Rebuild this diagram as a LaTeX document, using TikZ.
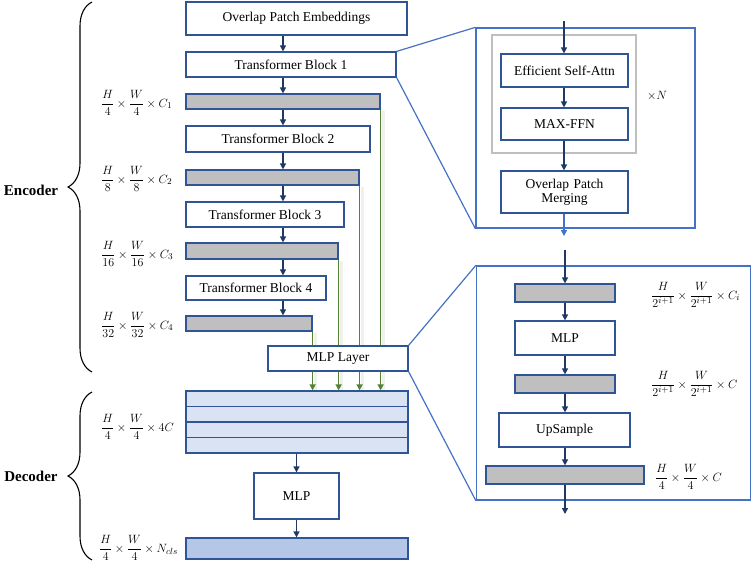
\documentclass[tikz,border=0pt]{standalone}
\usepackage{fontspec}
\setmainfont{Liberation Serif}
\usetikzlibrary{arrows.meta,decorations.pathreplacing}
\definecolor{bordc}{HTML}{2F5597}
\definecolor{arrc}{HTML}{1F3864}
\definecolor{grayf}{HTML}{BFBFBF}
\definecolor{greenc}{HTML}{548235}
\definecolor{panelc}{HTML}{4472C4}
\definecolor{stackf}{HTML}{DAE3F3}
\definecolor{outf}{HTML}{B4C7E7}
\tikzset{
  box/.style={draw=bordc, fill=white, line width=1.2pt, inner sep=0pt, font=\fontsize{13.5}{15}\selectfont, align=center},
  gbar/.style={draw=bordc, fill=grayf, line width=1.2pt, inner sep=0pt},
  sbar/.style={draw=bordc, fill=stackf, line width=1.2pt, inner sep=0pt},
  arr/.style={draw=arrc, line width=1.4pt, -{Triangle[length=6pt,width=6pt]}},
  larr/.style={draw=panelc, line width=1.4pt, -{Triangle[length=6pt,width=6pt]}},
  garr/.style={draw=greenc, line width=1.3pt, -{Triangle[length=6pt,width=6pt]}},
  gshadow/.style={draw=greenc!10, line width=3pt},
  panel/.style={draw=panelc, line width=1.3pt, inner sep=0pt},
  zoomln/.style={draw=panelc, line width=1.2pt},
  dimlab/.style={font=\fontsize{12.5}{15}\selectfont, inner sep=0pt, anchor=west},
  brc/.style={draw=black, line width=1.1pt, decorate, decoration={brace, amplitude=24pt}},
  partlab/.style={font=\fontsize{15}{17}\selectfont\bfseries, inner sep=0pt}
}
\begin{document}
\begin{tikzpicture}[x=1pt,y=-1pt]
\useasboundingbox (0,0) rectangle (752,563);
\coordinate (axl) at (283,0);
% encoder column
\node[box, minimum width=221pt, minimum height=33pt] (ope) at (296.5,18.5) {Overlap Patch Embeddings};
\node[box, minimum width=210pt, minimum height=25pt] (tb1) at (291,64.5) {Transformer Block 1};
\node[gbar, minimum width=194pt, minimum height=15pt] (g1) at (283,101.5) {};
\node[box, minimum width=184pt, minimum height=26pt] (tb2) at (278,139) {Transformer Block 2};
\node[gbar, minimum width=173pt, minimum height=15pt] (g2) at (272.5,177.5) {};
\node[box, minimum width=158pt, minimum height=25pt] (tb3) at (265,214.5) {Transformer Block 3};
\node[gbar, minimum width=152pt, minimum height=16pt] (g3) at (262,251) {};
\node[box, minimum width=140pt, minimum height=24pt] (tb4) at (256,288) {Transformer Block 4};
\node[gbar, minimum width=126pt, minimum height=15pt] (g4) at (249,323.5) {};
% decoder stack
\node[sbar, minimum width=222pt, minimum height=15.5pt] (s1) at (297,398.75) {};
\node[sbar, minimum width=222pt, minimum height=15.5pt] (s2) at (297,414.25) {};
\node[sbar, minimum width=222pt, minimum height=15.5pt] (s3) at (297,429.75) {};
\node[sbar, minimum width=222pt, minimum height=15.5pt] (s4) at (297,445.25) {};
\node[box, minimum width=85pt, minimum height=46pt] (mlp) at (296.5,496) {MLP};
\node[draw=bordc, fill=outf, line width=1.2pt, inner sep=0pt, minimum width=222pt, minimum height=21pt] (out) at (297,548.5) {};
% arrows encoder
\draw[arr] (ope.south -| axl) -- (tb1.north -| axl);
\draw[arr] (tb1.south -| axl) -- (g1.north -| axl);
\draw[arr] (g1.south -| axl) -- (tb2.north -| axl);
\draw[arr] (tb2.south -| axl) -- (g2.north -| axl);
\draw[arr] (g2.south -| axl) -- (tb3.north -| axl);
\draw[arr] (tb3.south -| axl) -- (g3.north -| axl);
\draw[arr] (g3.south -| axl) -- (tb4.north -| axl);
\draw[arr] (tb4.south -| axl) -- (g4.north -| axl);
% green skip lines
\foreach \g in {g1,g2,g3,g4}{
  \draw[gshadow] ([xshift=2.5pt,yshift=-1pt]\g.south east) -- ([xshift=2.5pt]\g.south east |- s1.north);
}
\foreach \g in {g1,g2,g3,g4}{
  \draw[garr] (\g.south east) -- (\g.south east |- s1.north);
}
\node[box, minimum width=140pt, minimum height=25pt] (mlpl) at (338,358.5) {MLP Layer};
\draw[arr] (s4.south -| mlp.north) -- (mlp.north);
\draw[arr] (mlp.south) -- (out.north -| mlp.south);
% left labels
\node[dimlab] (l1) at (101,103) {$\displaystyle\frac{H}{4}\times\frac{W}{4}\times C_1$};
\node[dimlab] (l2) at (101,179) {$\displaystyle\frac{H}{8}\times\frac{W}{8}\times C_2$};
\node[dimlab] (l3) at (101,254) {$\displaystyle\frac{H}{16}\times\frac{W}{16}\times C_3$};
\node[dimlab] (l4) at (101,325) {$\displaystyle\frac{H}{32}\times\frac{W}{32}\times C_4$};
\node[dimlab] (l5) at (101,427) {$\displaystyle\frac{H}{4}\times\frac{W}{4}\times 4C$};
\node[dimlab] (l6) at (99,548) {$\displaystyle\frac{H}{4}\times\frac{W}{4}\times N_{cls}$};
% braces
\coordinate (eb1) at (92,372);
\coordinate (eb2) at (92,2);
\coordinate (db1) at (92,560);
\coordinate (db2) at (92,392);
\draw[brc] (eb1) -- (eb2);
\draw[brc] (db1) -- (db2);
\node[partlab] (enc) at (31,190) {Encoder};
\node[partlab] (dec) at (31,476) {Decoder};
% top-right panel
\node[panel, minimum width=219pt, minimum height=200pt] (p1) at (585.5,128) {};
\node[draw=grayf, line width=1.2pt, inner sep=0pt, minimum width=144pt, minimum height=118pt] (rep) at (564,94) {};
\node[box, minimum width=127pt, minimum height=33pt] (esa) at (564.5,70.5) {Efficient Self-Attn};
\node[box, minimum width=127pt, minimum height=32pt] (ffn) at (564.5,124) {MAX-FFN};
\node[box, minimum width=127pt, minimum height=42pt, text width=120pt] (opm) at (564.5,192) {Overlap Patch\\[-1pt]Merging};
\node[font=\fontsize{13}{15}\selectfont, inner sep=0pt] (xn) at (657,96) {$\times N$};
\coordinate (p1in) at (564,21);
\coordinate (p1out) at (564,236);
\draw[arr] (p1in) -- (p1in |- esa.north);
\draw[arr] (esa.south -| p1in) -- (ffn.north -| p1in);
\draw[arr] (ffn.south -| p1in) -- (opm.north -| p1in);
\draw[larr] (opm.south -| p1in) -- (p1out);
\draw[zoomln] (tb1.north east) -- (p1.north west);
\draw[zoomln] (tb1.south east) -- (p1.south west);
% bottom-right panel
\node[panel, minimum width=274pt, minimum height=234pt] (p2) at (613.5,383) {};
\node[gbar, minimum width=100pt, minimum height=18pt] (ga) at (565,293) {};
\node[box, minimum width=100pt, minimum height=34pt] (mlp2) at (565,338) {MLP};
\node[gbar, minimum width=100pt, minimum height=18pt] (gb) at (565,384) {};
\node[box, minimum width=131pt, minimum height=34pt] (ups) at (564.5,430) {UpSample};
\node[gbar, minimum width=158pt, minimum height=18pt] (gc) at (565,475) {};
\coordinate (p2in) at (565,250);
\coordinate (p2out) at (565,514);
\draw[arr] (p2in) -- (p2in |- ga.north);
\draw[arr] (ga.south) -- (mlp2.north);
\draw[arr] (mlp2.south) -- (gb.north);
\draw[arr] (gb.south) -- (gb.south |- ups.north);
\draw[arr] (ups.south -| gc.north) -- (gc.north);
\draw[arr] (gc.south) -- (p2out);
\node[dimlab] (r1) at (651,295) {$\displaystyle\frac{H}{2^{i+1}}\times\frac{W}{2^{i+1}}\times C_i$};
\node[dimlab] (r2) at (651,384) {$\displaystyle\frac{H}{2^{i+1}}\times\frac{W}{2^{i+1}}\times C$};
\node[dimlab] (r3) at (655,477) {$\displaystyle\frac{H}{4}\times\frac{W}{4}\times C$};
\draw[zoomln] (mlpl.north east) -- (p2.north west);
\draw[zoomln] (mlpl.south east) -- (p2.south west);
\end{tikzpicture}
\end{document}
